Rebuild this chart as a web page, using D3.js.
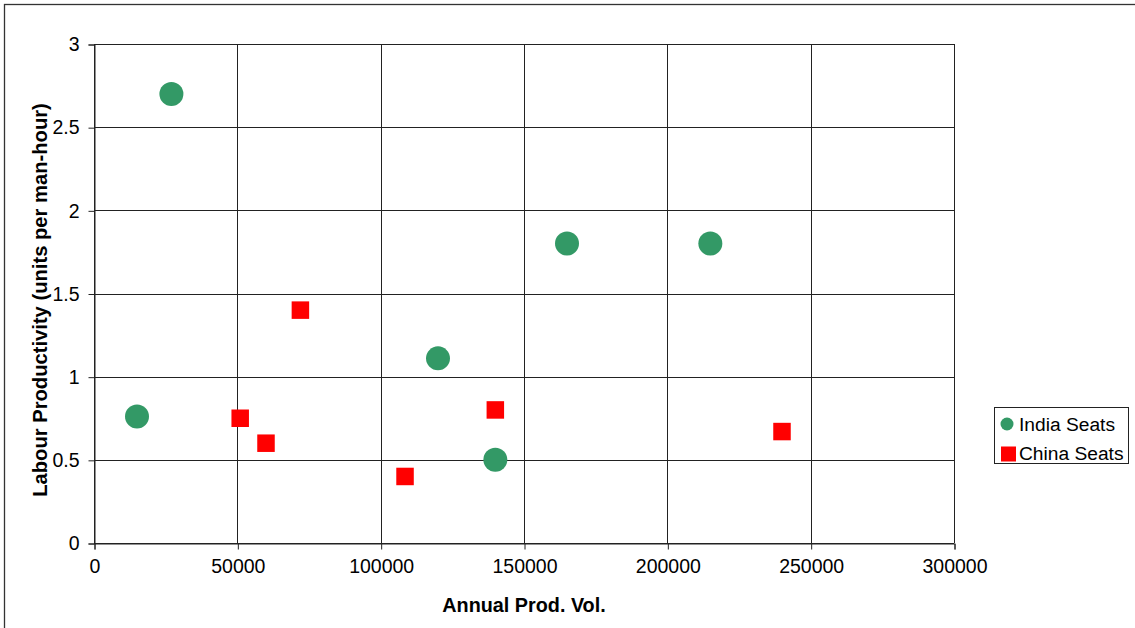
<!DOCTYPE html>
<html><head><meta charset="utf-8">
<script src="https://cdn.jsdelivr.net/npm/d3@7"></script>
<style>body{margin:0;background:#fff}svg{display:block}text{font-family:Arial,"Liberation Sans",sans-serif}</style>
</head><body><svg id="c" width="1135" height="628"></svg>
<script>
const xTicks = [0, 50000, 100000, 150000, 200000, 250000, 300000];
const yTicks = [0, 0.5, 1, 1.5, 2, 2.5, 3];
const indiaX = [15000, 27000, 120000, 140000, 165000, 215000];
const indiaY = [0.76, 2.7, 1.11, 0.5, 1.8, 1.8];
const chinaX = [51000, 60000, 72000, 108500, 140000, 240000];
const chinaY = [0.75, 0.6, 1.4, 0.4, 0.8, 0.67];
const seriesNames = ["India Seats", "China Seats"];
const xTitle = "Annual Prod. Vol.";
const yTitle = "Labour Productivity (units per man-hour)";

const svg = d3.select("#c");
const L = 94, R = 954, T = 44, B = 543;
const x = d3.scaleLinear().domain([0, 300000]).range([L, R]);
const y = d3.scaleLinear().domain([0, 3]).range([B, T]);

// outer border
svg.append("rect").attr("x", 4.5).attr("y", 4.5).attr("width", 1140).attr("height", 640)
  .attr("fill", "none").attr("stroke", "#333").attr("stroke-width", 1.3);

// gridlines
const g = svg.append("g");
g.selectAll(".vg").data(xTicks).enter().append("line")
  .attr("x1", d => Math.round(x(d)) + 0.5).attr("x2", d => Math.round(x(d)) + 0.5)
  .attr("y1", T).attr("y2", B).attr("stroke", "#222").attr("stroke-width", 1);
g.selectAll(".hg").data(yTicks).enter().append("line")
  .attr("y1", d => Math.round(y(d)) + 0.5).attr("y2", d => Math.round(y(d)) + 0.5)
  .attr("x1", L).attr("x2", R).attr("stroke", "#222").attr("stroke-width", 1);

// axes
const xa = svg.append("g").attr("transform", `translate(0.5,${B + 0.5})`)
  .call(d3.axisBottom(x).tickValues(xTicks).tickSize(6).tickPadding(10).tickFormat(d3.format("d")));
const ya = svg.append("g").attr("transform", `translate(${L + 0.5},0.5)`)
  .call(d3.axisLeft(y).tickValues(yTicks).tickSize(6).tickPadding(9).tickFormat(d => String(d)));
[xa, ya].forEach(a => {
  a.select(".domain").attr("stroke", "#222");
  a.selectAll(".tick line").attr("stroke", "#222");
  a.selectAll(".tick text").attr("font-size", 19.5).attr("fill", "#000")
    .attr("font-family", "Arial, 'Liberation Sans', sans-serif");
});

// titles
svg.append("text").attr("x", 524).attr("y", 612).attr("text-anchor", "middle")
  .attr("font-size", 19.8).attr("font-weight", "bold").text(xTitle);
svg.append("text").attr("transform", "translate(47,300) rotate(-90)").attr("text-anchor", "middle")
  .attr("font-size", 20.2).attr("font-weight", "bold").text(yTitle);

// points
const india = indiaX.map((v, i) => ({ x: v, y: indiaY[i] }));
const china = chinaX.map((v, i) => ({ x: v, y: chinaY[i] }));
svg.append("g").selectAll("circle").data(india).enter().append("circle")
  .attr("cx", d => x(d.x)).attr("cy", d => y(d.y)).attr("r", 12).attr("fill", "#339966");
const s = 17.5;
svg.append("g").selectAll("rect").data(china).enter().append("rect")
  .attr("x", d => x(d.x) - s / 2).attr("y", d => y(d.y) - s / 2)
  .attr("width", s).attr("height", s).attr("fill", "#ff0000");

// legend
const lg = svg.append("g");
lg.append("rect").attr("x", 994.5).attr("y", 407.5).attr("width", 134).attr("height", 56)
  .attr("fill", "#fff").attr("stroke", "#222").attr("stroke-width", 1);
lg.append("circle").attr("cx", 1007).attr("cy", 424).attr("r", 6.5).attr("fill", "#339966");
lg.append("rect").attr("x", 1001).attr("y", 446.5).attr("width", 15).attr("height", 15).attr("fill", "#ff0000");
lg.append("text").attr("x", 1019).attr("y", 431).attr("font-size", 19.2).text(seriesNames[0]);
lg.append("text").attr("x", 1019).attr("y", 460).attr("font-size", 19.2).text(seriesNames[1]);
</script></body></html>
